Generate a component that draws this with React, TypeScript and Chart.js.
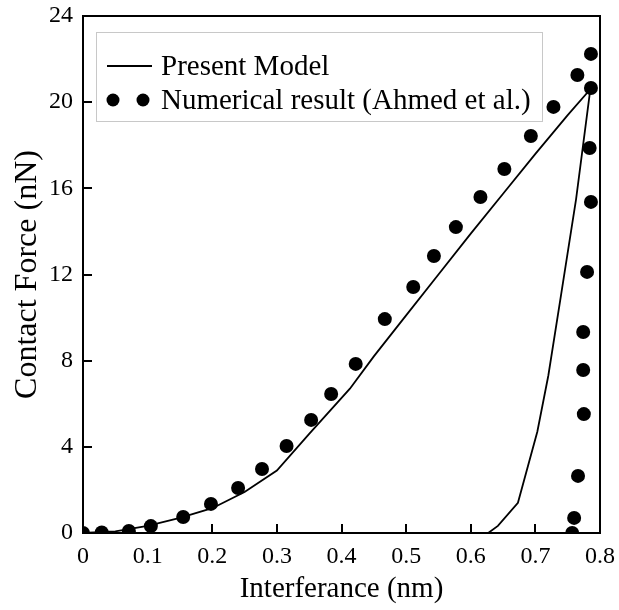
import React, { useEffect, useRef } from "react";
import { Chart, registerables } from "chart.js";

Chart.register(...registerables);

// Present Model (loading then unloading path)
const modelX = [0, 0.05, 0.1, 0.15, 0.2, 0.25, 0.3, 0.35, 0.413, 0.45, 0.5, 0.55, 0.6, 0.65, 0.7, 0.75, 0.785, 0.763, 0.74, 0.72, 0.703, 0.673, 0.642, 0.627];
const modelY = [0, 0.08, 0.33, 0.7, 1.15, 1.9, 2.9, 4.6, 6.7, 8.2, 10.1, 12.0, 13.9, 15.75, 17.6, 19.4, 20.6, 15.5, 11.1, 7.3, 4.7, 1.4, 0.33, 0];

// Numerical result (Ahmed et al.)
const ahmedX = [0, 0.029, 0.071, 0.105, 0.155, 0.198, 0.24, 0.277, 0.315, 0.353, 0.384, 0.422, 0.467, 0.511, 0.543, 0.577, 0.615, 0.652, 0.693, 0.728, 0.765, 0.786, 0.786, 0.784, 0.786, 0.78, 0.774, 0.774, 0.775, 0.766, 0.76, 0.757];
const ahmedY = [0, 0.02, 0.09, 0.32, 0.74, 1.35, 2.09, 2.97, 4.04, 5.25, 6.45, 7.85, 9.93, 11.42, 12.86, 14.2, 15.6, 16.9, 18.43, 19.78, 21.26, 22.24, 20.66, 17.87, 15.37, 12.12, 9.33, 7.57, 5.52, 2.65, 0.7, 0];

const xTicks = [0, 0.1, 0.2, 0.3, 0.4, 0.5, 0.6, 0.7, 0.8];
const yTicks = [0, 4, 8, 12, 16, 20, 24];

const seriesNames = ["Present Model", "Numerical result (Ahmed et al.)"];
const xTitle = "Interferance (nm)";
const yTitle = "Contact Force (nN)";

const FONT = "'Liberation Serif', 'Times New Roman', serif";

const framePlugin = {
  id: "frame",
  afterDraw(chart: any) {
    const { ctx, chartArea } = chart;
    const { left, right, top, bottom } = chartArea;
    const xs = chart.scales.x;
    const ys = chart.scales.y;
    ctx.save();
    ctx.strokeStyle = "#000";
    ctx.lineWidth = 2;
    ctx.strokeRect(left, top, right - left, bottom - top);
    const tl = 9;
    ctx.beginPath();
    xTicks.forEach((v) => {
      const px = Math.round(xs.getPixelForValue(v));
      ctx.moveTo(px, bottom);
      ctx.lineTo(px, bottom - tl);
    });
    yTicks.forEach((v) => {
      const py = Math.round(ys.getPixelForValue(v));
      ctx.moveTo(left, py);
      ctx.lineTo(left + tl, py);
    });
    ctx.stroke();

    // legend
    const bx = 96.5, by = 32.5, bw = 446, bh = 89;
    ctx.strokeStyle = "#c8c8c8";
    ctx.lineWidth = 1;
    ctx.strokeRect(bx, by, bw, bh);
    ctx.strokeStyle = "#000";
    ctx.lineWidth = 1.8;
    ctx.beginPath();
    ctx.moveTo(107, 66);
    ctx.lineTo(152, 66);
    ctx.stroke();
    ctx.fillStyle = "#000";
    [113, 143].forEach((cx) => {
      ctx.beginPath();
      ctx.arc(cx, 100, 6.5, 0, Math.PI * 2);
      ctx.fill();
    });
    ctx.font = "29px " + FONT;
    ctx.textBaseline = "alphabetic";
    ctx.textAlign = "left";
    ctx.fillText(seriesNames[0], 161, 75);
    ctx.fillText(seriesNames[1], 161, 109);
    ctx.restore();
  },
};

export default function App() {
  const ref = useRef<HTMLCanvasElement | null>(null);
  useEffect(() => {
    if (!ref.current) return;
    const chart = new Chart(ref.current, {
      type: "scatter",
      data: {
        datasets: [
          {
            label: seriesNames[1],
            data: ahmedX.map((x, i) => ({ x, y: ahmedY[i] })),
            pointRadius: 7,
            pointBackgroundColor: "#000",
            pointBorderWidth: 0,
            showLine: false,
            order: 0,
          },
          {
            label: seriesNames[0],
            data: modelX.map((x, i) => ({ x, y: modelY[i] })),
            showLine: true,
            borderColor: "#000",
            borderWidth: 1.8,
            pointRadius: 0,
            fill: false,
            tension: 0,
            order: 1,
          },
        ],
      },
      options: {
        responsive: false,
        animation: false,
        devicePixelRatio: 1,
        layout: { padding: { top: 16, right: 19, left: 0, bottom: 0 } },
        plugins: {
          legend: { display: false },
          tooltip: { enabled: false },
        },
        scales: {
          x: {
            type: "linear",
            min: 0,
            max: 0.8,
            afterFit: (s: any) => {
              s.height = 77;
            },
            afterBuildTicks: (s: any) => {
              s.ticks = xTicks.map((v) => ({ value: v }));
            },
            grid: { display: true, drawOnChartArea: false, drawTicks: true, tickLength: 9, color: "rgba(0,0,0,0)" },
            border: { display: false },
            ticks: {
              color: "#000",
              padding: 0,
              maxRotation: 0,
              font: { family: FONT, size: 24 },
              callback: (v: any) => (v === 0 ? "0" : (Math.round(v * 10) / 10).toFixed(1)),
            },
            title: {
              display: true,
              text: xTitle,
              color: "#000",
              font: { family: FONT, size: 29 },
              padding: { top: 0, bottom: 3 },
            },
          },
          y: {
            type: "linear",
            min: 0,
            max: 24,
            afterFit: (s: any) => {
              s.width = 83;
            },
            afterBuildTicks: (s: any) => {
              s.ticks = yTicks.map((v) => ({ value: v }));
            },
            grid: { display: true, drawOnChartArea: false, drawTicks: true, tickLength: 10, color: "rgba(0,0,0,0)" },
            border: { display: false },
            ticks: {
              color: "#000",
              padding: 0,
              font: { family: FONT, size: 24 },
              callback: (v: any) => String(v),
            },
            title: {
              display: true,
              text: yTitle,
              color: "#000",
              font: { family: FONT, size: 32 },
              padding: { top: 8, bottom: 0 },
            },
          },
        },
      },
      plugins: [framePlugin],
    });
    return () => chart.destroy();
  }, []);
  return (
    <div style={{ position: "fixed", left: 0, top: 0, width: 619, height: 610, background: "#fff" }}>
      <canvas ref={ref} width={619} height={610} style={{ display: "block" }} />
    </div>
  );
}
